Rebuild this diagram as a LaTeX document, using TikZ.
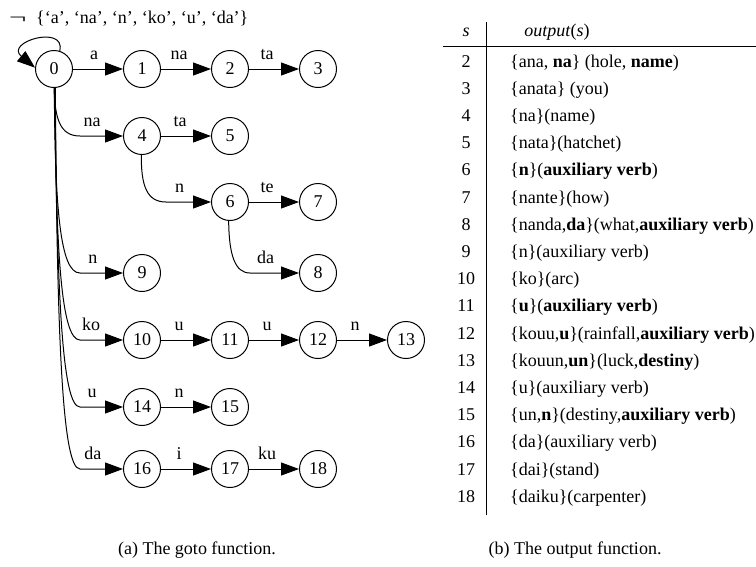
\documentclass[tikz,border=0pt]{standalone}
\usepackage{fontspec}
\setmainfont{Liberation Serif}
\usetikzlibrary{arrows.meta}
\newcommand{\fs}{\fontsize{18}{21}\selectfont}
\tikzset{
  st/.style={circle, draw, line width=1pt, minimum size=37pt, inner sep=0pt, font=\fs},
  edge/.style={line width=1pt, -{Triangle[length=18pt,width=13pt]}},
  lbl/.style={anchor=base, inner sep=0pt, yshift=9.5pt, font=\fs},
  txt/.style={inner sep=0pt, font=\fs},
}
\begin{document}
\begin{tikzpicture}[x=1pt,y=-1pt]
\useasboundingbox (0,0) rectangle (756,566);
% states
\node[st] (n0) at (54,69) {0};
\node[st] (n1) at (142,69) {1};
\node[st] (n2) at (230,69) {2};
\node[st] (n3) at (318,69) {3};
\node[st] (n4) at (142,136) {4};
\node[st] (n5) at (230,136) {5};
\node[st] (n6) at (230,202) {6};
\node[st] (n7) at (318,202) {7};
\node[st] (n8) at (318,273) {8};
\node[st] (n9) at (142,273) {9};
\node[st] (n10) at (142,340) {10};
\node[st] (n11) at (230,340) {11};
\node[st] (n12) at (318,340) {12};
\node[st] (n13) at (406,340) {13};
\node[st] (n14) at (142,407) {14};
\node[st] (n15) at (230,407) {15};
\node[st] (n16) at (142,469) {16};
\node[st] (n17) at (230,469) {17};
\node[st] (n18) at (318,469) {18};
% top label
\node[txt, anchor=base west] (neg) at (9,23) {\scalebox{1.7}[1]{¬}};
\node[txt, anchor=base west] (fail) at (36,23) {\{‘a’, ‘na’, ‘n’, ‘ko’, ‘u’, ‘da’\}};
% self loop
\draw[edge] (n0.72) .. controls (66,24) and (4,42) .. (n0.176);
% straight edges
\draw[edge] (n0) -- node[lbl,pos=0.42]{a} (n1);
\draw[edge] (n1) -- node[lbl,pos=0.36]{na} (n2);
\draw[edge] (n2) -- node[lbl,pos=0.36]{ta} (n3);
\draw[edge] (n4) -- node[lbl,pos=0.38]{ta} (n5);
\draw[edge] (n6) -- node[lbl,pos=0.36]{te} (n7);
\draw[edge] (n10) -- node[lbl,pos=0.36]{u} (n11);
\draw[edge] (n11) -- node[lbl,pos=0.36]{u} (n12);
\draw[edge] (n12) -- node[lbl,pos=0.36]{n} (n13);
\draw[edge] (n14) -- node[lbl,pos=0.36]{n} (n15);
\draw[edge] (n16) -- node[lbl,pos=0.36]{i} (n17);
\draw[edge] (n17) -- node[lbl,pos=0.36]{ku} (n18);
% curved edges
\draw[edge] (n0.-90) .. controls (55,119) and (60,136) .. (80,136) -- node[lbl,pos=0.28]{na} (n4);
\draw[edge] (n0.-89) .. controls (55,208) and (60,273) .. (80,273) -- node[lbl,pos=0.3]{n} (n9);
\draw[edge] (n0.-88) .. controls (56,252) and (61,340) .. (80,340) -- node[lbl,pos=0.26]{ko} (n10);
\draw[edge] (n0.-87) .. controls (57,295) and (62,407) .. (80,407) -- node[lbl,pos=0.28]{u} (n14);
\draw[edge] (n0.-86) .. controls (57,335) and (62,469) .. (80,469) -- node[lbl,pos=0.3]{da} (n16);
\draw[edge] (n4.-92) .. controls (141,186) and (147,202) .. (166,202) -- node[lbl,pos=0.3]{n} (n6);
\draw[edge] (n6.-94) .. controls (229,255) and (235,273) .. (250,273) -- node[lbl,pos=0.32]{da} (n8);
% table
\coordinate (vt) at (486,22);
\coordinate (vb) at (486,515);
\coordinate (hl) at (443,46);
\coordinate (hr) at (756,46);
\draw[line width=1pt] (vt) -- (vb);
\draw[line width=1pt] (hl) -- (hr);
\node[txt, anchor=base] (hs) at (466,36) {\textit{s}};
\node[txt, anchor=base] (ho) at (557,36) {\textit{output}(\textit{s})};
\foreach \i/\t in {
 2/{\{ana, \textbf{na}\} (hole, \textbf{name})},
 3/{\{anata\} (you)},
 4/{\{na\}(name)},
 5/{\{nata\}(hatchet)},
 6/{\{\textbf{n}\}(\textbf{auxiliary verb})},
 7/{\{nante\}(how)},
 8/{\{nanda,\textbf{da}\}(what,\textbf{auxiliary verb})},
 9/{\{n\}(auxiliary verb)},
 10/{\{ko\}(arc)},
 11/{\{\textbf{u}\}(\textbf{auxiliary verb})},
 12/{\{kouu,\textbf{u}\}(rainfall,\textbf{auxiliary verb})},
 13/{\{kouun,\textbf{un}\}(luck,\textbf{destiny})},
 14/{\{u\}(auxiliary verb)},
 15/{\{un,\textbf{n}\}(destiny,\textbf{auxiliary verb})},
 16/{\{da\}(auxiliary verb)},
 17/{\{dai\}(stand)},
 18/{\{daiku\}(carpenter)}}{
  \pgfmathsetmacro{\yy}{61+27.2*(\i-2)+6}
  \node[txt, anchor=base] (r\i) at (466,\yy) {\i};
  \node[txt, anchor=base west] (o\i) at (510,\yy) {\t};
}
% captions
\node[txt, anchor=base] (capa) at (197,554) {(a) The goto function.};
\node[txt, anchor=base] (capb) at (575,554) {(b) The output function.};
\end{tikzpicture}
\end{document}
